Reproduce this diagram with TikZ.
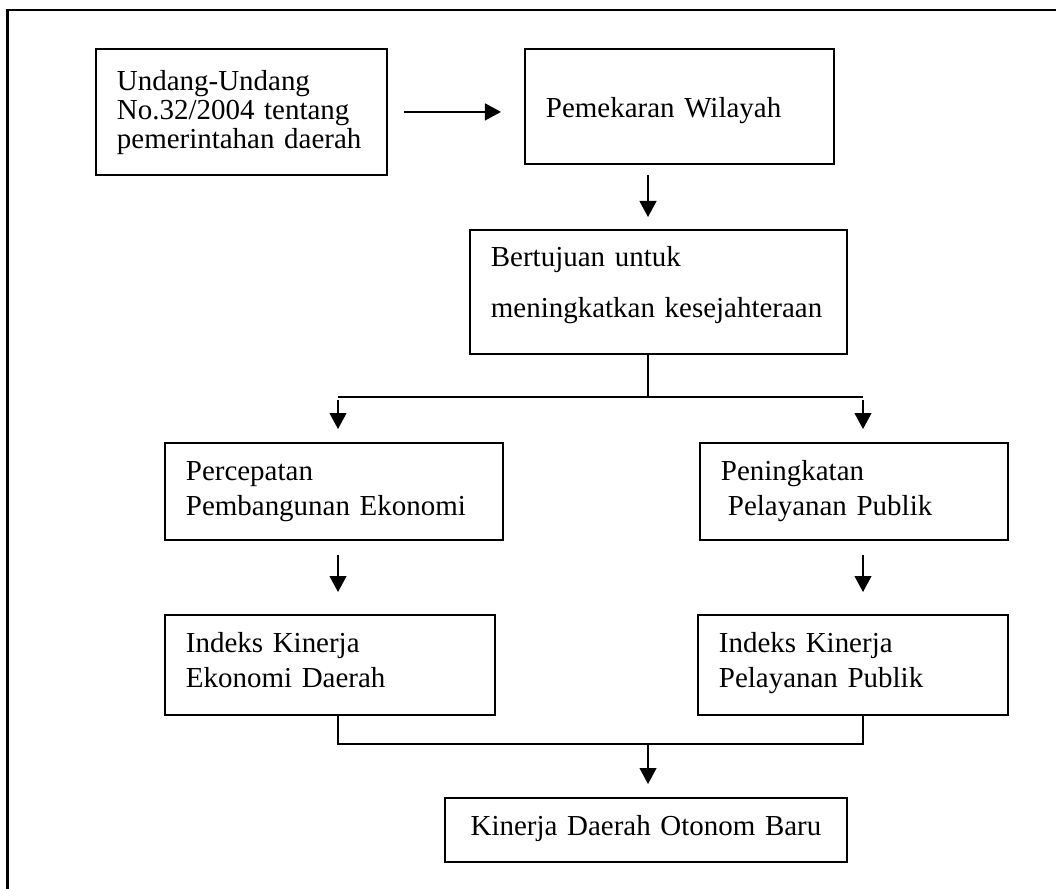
\documentclass[tikz,border=0pt]{standalone}
\usepackage{fontspec}
\setmainfont{Liberation Serif}
\usetikzlibrary{arrows.meta}

\begin{document}
\begin{tikzpicture}[x=0.025cm,y=-0.025cm,
  kotak/.style={draw,line width=0.045cm,rectangle,anchor=north west,inner xsep=0.525cm,inner ysep=0.05cm,align=left,text height=0.5cm,font=\fontsize{20.6pt}{24.9pt}\selectfont},
  garis/.style={line width=0.045cm},
  panah/.style={line width=0.045cm,-{Triangle[length=0.4cm,width=0.42cm]}}]
\useasboundingbox (0,0) rectangle (1056,888);
\draw[line width=0.065cm] (7.6,900) -- (7.6,10) -- (1070,10);

\node[kotak,text width=6.225cm,minimum height=3.15cm,text depth=1.55cm,font=\fontsize{20.6pt}{20.3pt}\selectfont] (undang) at (95,48) {Undang-Undang\\No.32/2004 tentang\\ \mbox{pemerintahan daerah}};
\node[kotak,text width=6.675cm,minimum height=2.875cm,text height=0.65cm,text depth=0.075cm] (mekar) at (524,48) {Pemekaran Wilayah};
\node[kotak,text width=8.375cm,minimum height=3.1cm,text depth=1.75cm,font=\fontsize{20.6pt}{36.3pt}\selectfont] (tujuan) at (469,229) {Bertujuan untuk\\ \mbox{meningkatkan kesejahteraan}};
\node[kotak,text width=7.4cm,minimum height=2.425cm,text depth=1.025cm] (cepat) at (164,442) {Percepatan\\Pembangunan Ekonomi};
\node[kotak,text width=6.65cm,minimum height=2.425cm,text depth=1.025cm] (tingkat) at (699,442) {Peningkatan\\\hspace*{0.175cm}Pelayanan Publik};
\node[kotak,text width=7.2cm,minimum height=2.5cm,text depth=1.1cm] (ikeko) at (164,614) {Indeks Kinerja\\Ekonomi Daerah};
\node[kotak,text width=6.7cm,minimum height=2.5cm,text depth=1.1cm] (ikpel) at (697,614) {Indeks Kinerja\\Pelayanan Publik};
\node[kotak,align=center,text width=9cm,minimum height=1.6cm,text depth=0.2cm] (kinerja) at (444,797) {Kinerja Daerah Otonom Baru};

\coordinate (tengah) at (648,397);
\coordinate (kiri) at (338,397);
\coordinate (kanan) at (863,397);
\coordinate (bawah) at (648,744);

\draw[panah] ([xshift=0.4cm]undang.east) -- ([xshift=-0.575cm]undang.east -| mekar.west);
\draw[panah] ([yshift=-0.25cm]mekar.south -| tengah) -- ([yshift=0.3cm]tujuan.north -| tengah);
\draw[garis] (tujuan.south -| tengah) -- (tengah);
\draw[garis] (kiri) -- (kanan);
\draw[panah] ([yshift=-0.075cm]kiri) -- ([yshift=0.325cm]cepat.north -| kiri);
\draw[panah] ([yshift=-0.075cm]kanan) -- ([yshift=0.325cm]tingkat.north -| kanan);
\draw[panah] ([yshift=-0.35cm]cepat.south -| kiri) -- ([yshift=0.55cm]ikeko.north -| kiri);
\draw[panah] ([yshift=-0.35cm]tingkat.south -| kanan) -- ([yshift=0.55cm]ikpel.north -| kanan);
\draw[garis] (ikeko.south -| kiri) -- (kiri |- bawah) -- (kanan |- bawah) -- (ikpel.south -| kanan);
\draw[panah] (bawah) -- ([yshift=0.325cm]kinerja.north -| bawah);

\end{tikzpicture}
\end{document}
